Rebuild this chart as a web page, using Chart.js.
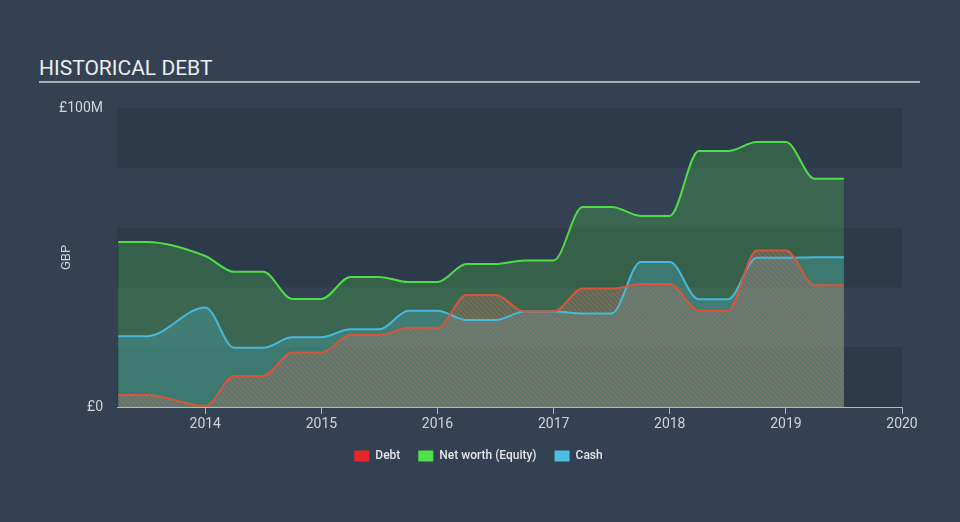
<!DOCTYPE html>
<html>
<head>
<meta charset="utf-8">
<script src="https://cdn.jsdelivr.net/npm/chart.js@4/dist/chart.umd.min.js"></script>
<style>
  html, body { margin: 0; padding: 0; background: #344152; }
  #wrap { position: relative; width: 960px; height: 522px; overflow: hidden; }
  #title {
    position: absolute; left: 39px; top: 57px; width: 881px;
    font: 21px Roboto, sans-serif; color: #eeeeee;
    padding-bottom: 2px; border-bottom: 2px solid #a7adb5; line-height: 22px;
  }
  canvas { position: absolute; left: 0; top: 0; }
</style>
</head>
<body>
<div id="wrap">
  <div id="title">HISTORICAL DEBT</div>
  <canvas id="chart" width="960" height="522"></canvas>
</div>
<script>
'use strict'
// quarter dates (decimal years)
const dates = [
  2013.25, 2013.5, 2014.0, 2014.25, 2014.5, 2014.75, 2015.0, 2015.25, 2015.5,
  2015.75, 2016.0, 2016.25, 2016.5, 2016.75, 2017.0, 2017.25, 2017.5, 2017.75,
  2018.0, 2018.25, 2018.5, 2018.75, 2019.0, 2019.25, 2019.5,
]
// values in £M
const debt = [
  4.0, 4.0, 0.3, 10.4, 10.4, 18.2, 18.2, 24.1, 24.1, 26.5, 26.5, 37.5, 37.5,
  31.9, 31.9, 39.6, 39.6, 41.1, 41.1, 32.2, 32.2, 52.3, 52.3, 40.7, 40.7,
]
const netWorth = [
  55.2, 55.2, 50.5, 45.2, 45.2, 36.1, 36.1, 43.5, 43.5, 41.8, 41.8, 47.8, 47.8,
  49.0, 49.0, 66.9, 66.9, 63.9, 63.9, 85.6, 85.6, 88.6, 88.6, 76.3, 76.3,
]
const cash = [
  23.7, 23.7, 33.3, 19.8, 19.8, 23.3, 23.3, 26.0, 26.0, 32.2, 32.2, 29.1, 29.1,
  31.9, 31.9, 31.3, 31.3, 48.5, 48.5, 36.0, 36.0, 49.9, 49.9, 50.1, 50.1,
]
const yearTicks = [2014, 2015, 2016, 2017, 2018, 2019, 2020]
const seriesNames = ['Debt', 'Net worth (Equity)', 'Cash']
const legendColors = ['#e8262a', '#4fe04b', '#4bbde0']

const toPoints = (vals) => vals.map((v, i) => ({ x: dates[i], y: v }))

// hatch for debt area
function makeHatch() {
  const c = document.createElement('canvas')
  c.width = 5
  c.height = 5
  const p = c.getContext('2d')
  p.fillStyle = 'rgba(135,140,135,0.25)'
  p.fillRect(0, 0, 5, 5)
  p.strokeStyle = 'rgba(210,95,70,0.55)'
  p.lineWidth = 1.3
  p.beginPath()
  p.moveTo(-1, -1)
  p.lineTo(6, 6)
  p.moveTo(-1, 4)
  p.lineTo(1, 6)
  p.moveTo(4, -1)
  p.lineTo(6, 1)
  p.stroke()
  return p.createPattern(c, 'repeat')
}

const bands = {
  id: 'bands',
  beforeDraw(chart) {
    const { ctx, chartArea } = chart
    const y = chart.scales.y
    ctx.save()
    ctx.fillStyle = '#2d3a4a'
    ;[[0, 20], [40, 60], [80, 100]].forEach(([a, b]) => {
      const top = y.getPixelForValue(b)
      const bot = y.getPixelForValue(a)
      ctx.fillRect(chartArea.left, top, chartArea.right - chartArea.left, bot - top)
    })
    ctx.restore()
  },
}

const ctx = document.getElementById('chart').getContext('2d')
new Chart(ctx, {
  type: 'line',
  data: {
    datasets: [
      {
        label: seriesNames[0],
        data: toPoints(debt),
        borderColor: '#d9553a',
        backgroundColor: makeHatch(),
        fill: 'origin',
        order: 0,
      },
      {
        label: seriesNames[1],
        data: toPoints(netWorth),
        borderColor: '#4fdc47',
        backgroundColor: 'rgba(79,216,74,0.25)',
        fill: 'origin',
        order: 2,
      },
      {
        label: seriesNames[2],
        data: toPoints(cash),
        borderColor: '#4ab8dc',
        backgroundColor: 'rgba(77,184,216,0.28)',
        fill: 'origin',
        order: 1,
      },
    ],
  },
  options: {
    responsive: false,
    animation: false,
    layout: { padding: { left: 55, right: 58, top: 108, bottom: 50 } },
    elements: {
      point: { radius: 0 },
      line: { borderWidth: 2, cubicInterpolationMode: 'monotone' },
    },
    plugins: {
      filler: { drawTime: 'beforeDatasetsDraw' },
      tooltip: { enabled: false },
      legend: {
        position: 'bottom',
        labels: {
          color: '#e3e6ea',
          font: { family: 'Roboto', size: 12, weight: '500' },
          boxWidth: 15,
          boxHeight: 11,
          padding: 18,
          sort: (a, b) => a.datasetIndex - b.datasetIndex,
          generateLabels(chart) {
            return Chart.defaults.plugins.legend.labels
              .generateLabels(chart)
              .map((item) => {
                const col = legendColors[item.datasetIndex]
                item.fillStyle = col
                item.strokeStyle = col
                item.lineWidth = 0
                return item
              })
          },
        },
      },
    },
    scales: {
      x: {
        type: 'linear',
        min: 2013.24,
        max: 2020,
        afterBuildTicks: (s) => {
          s.ticks = yearTicks.map((v) => ({ value: v }))
        },
        afterFit: (s) => {
          s.height = 25
        },
        border: { display: true, color: '#b3bcc6', width: 1 },
        grid: {
          display: true,
          drawOnChartArea: false,
          drawTicks: true,
          tickLength: 7,
          color: '#b3bcc6',
        },
        ticks: {
          color: '#d0d4d9',
          font: { family: 'Roboto', size: 14 },
          padding: 2,
          maxRotation: 0,
          callback: (v) => String(v),
        },
      },
      y: {
        min: 0,
        max: 100,
        afterBuildTicks: (s) => {
          s.ticks = [{ value: 0 }, { value: 100 }]
        },
        afterFit: (s) => {
          s.width = 62
        },
        border: { display: false },
        grid: { display: false, drawTicks: false },
        ticks: {
          color: '#d0d4d9',
          font: { family: 'Roboto', size: 14 },
          padding: 14,
          callback: (v) => (v === 100 ? '£100M' : '£0'),
        },
        title: {
          display: true,
          text: 'GBP',
          color: '#d0d4d9',
          font: { family: 'Roboto', size: 13 },
          padding: { top: 4, bottom: 4 },
        },
      },
    },
  },
  plugins: [bands],
})
</script>
</body>
</html>
